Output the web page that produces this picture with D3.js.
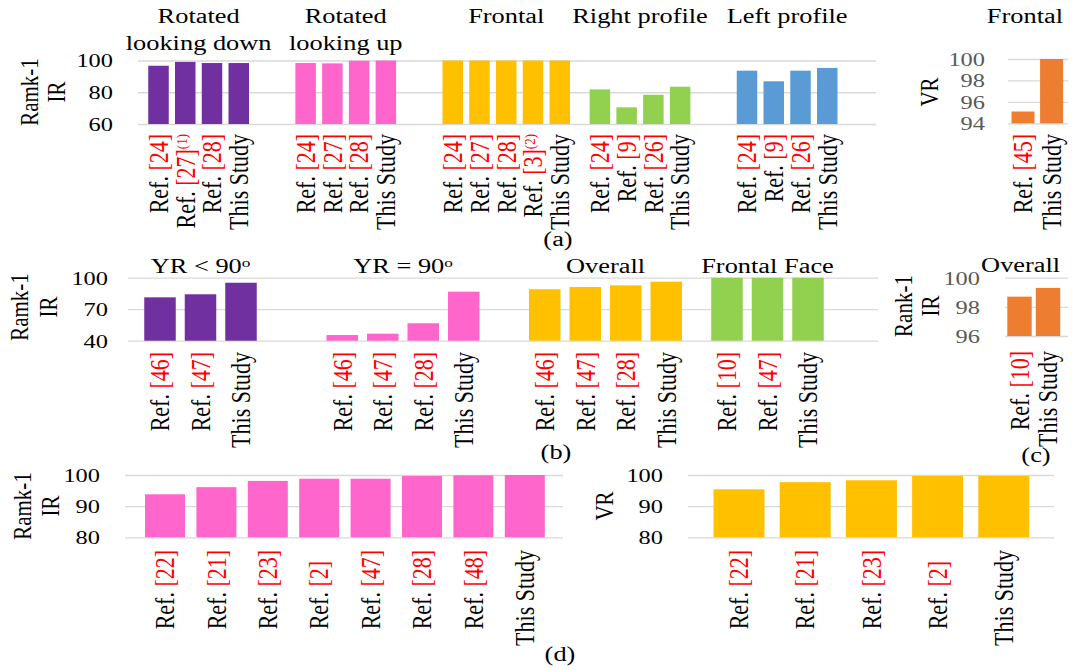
<!DOCTYPE html>
<html>
<head>
<meta charset="utf-8">
<script src="https://cdn.jsdelivr.net/npm/d3@7"></script>
<style>
  body { margin: 0; background: #fff; }
  svg { display: block; font-family: "Liberation Serif", "Times New Roman", serif; }
  text { white-space: pre; }
</style>
</head>
<body>
<svg id="chart" width="1072" height="670"></svg>
<script>
// ---------- data ----------
// (a) Rank-1 IR by pose
const aGroups = ["Rotated|looking down", "Rotated|looking up", "Frontal", "Right profile", "Left profile"];
const aLabels = [
  ["Ref. [24]", "Ref. [27]^(1)", "Ref. [28]", "This Study"],
  ["Ref. [24]", "Ref. [27]", "Ref. [28]", "This Study"],
  ["Ref. [24]", "Ref. [27]", "Ref. [28]", "Ref. [3]^(2)", "This Study"],
  ["Ref. [24]", "Ref. [9]", "Ref. [26]", "This Study"],
  ["Ref. [24]", "Ref. [9]", "Ref. [26]", "This Study"]
];
const aValues = [
  [96.7, 99.1, 98.4, 98.4],
  [98.4, 98.2, 99.9, 100],
  [100, 100, 100, 100, 100],
  [81.8, 70.5, 78.4, 83.5],
  [93.6, 86.9, 93.6, 95.3]
];
const aTicks = [60, 80, 100];

// (a) VR, frontal
const aVRGroup = "Frontal";
const aVRLabels = ["Ref. [45]", "This Study"];
const aVRValues = [95.1, 100];
const aVRTicks = [94, 96, 98, 100];

// (b) Rank-1 IR by yaw rotation
const bGroups = ["YR < 90^o", "YR = 90^o", "Overall", "Frontal Face"];
const bLabels = [
  ["Ref. [46]", "Ref. [47]", "This Study"],
  ["Ref. [46]", "Ref. [47]", "Ref. [28]", "This Study"],
  ["Ref. [46]", "Ref. [47]", "Ref. [28]", "This Study"],
  ["Ref. [10]", "Ref. [47]", "This Study"]
];
const bValues = [
  [81.3, 84.2, 95.2],
  [45.4, 46.7, 56.6, 86.7],
  [89.0, 91.1, 92.7, 96.2],
  [100, 100, 100]
];
const bTicks = [40, 70, 100];

// (c) Rank-1 IR, overall
const cGroup = "Overall";
const cLabels = ["Ref. [10]", "This Study"];
const cValues = [98.7, 99.3];
const cTicks = [96, 98, 100];

// (d) Rank-1 IR and VR
const dIRLabels = ["Ref. [22]", "Ref. [21]", "Ref. [23]", "Ref. [2]\u00a0\u00a0", "Ref. [47]", "Ref. [28]", "Ref. [48]", "This Study"];
const dIRValues = [93.8, 96.1, 98.1, 98.8, 98.8, 99.7, 99.9, 100];
const dVRLabels = ["Ref. [22]", "Ref. [21]", "Ref. [23]", "Ref. [2]\u00a0\u00a0", "This Study"];
const dVRValues = [95.4, 97.7, 98.3, 99.7, 99.7];
const dTicks = [80, 90, 100];

const purple = "#7030a0", pink = "#ff66cc", gold = "#ffc000",
      green = "#92d050", blue = "#5b9bd5", orange = "#ed7d31";
const aColors = [purple, pink, gold, green, blue];
const bColors = [purple, pink, gold, green];

// ---------- drawing ----------
const SXH = 1.32;   // horizontal widening of upright text
const SXV = 1.2;    // widening of rotated text
const svg = d3.select("#chart");

function addRich(t, str) {
  // "Ref. [n]" -> black "Ref. " + red "[n]", optional "^(k)" superscript note
  const m = str.match(/^Ref\. (\[\d+\])(\^(\(\d\)))?(.*)$/);
  if (m) {
    t.append("tspan").attr("fill", "#000").text("Ref. ");
    t.append("tspan").attr("fill", "#ff0000").text(m[1]);
    if (m[3]) t.append("tspan").attr("fill", "#ff0000").attr("dy", "-0.45em")
      .style("font-size", "13px").text(m[3]);
    if (m[4]) t.append("tspan").text(m[4]);
  } else {
    const parts = str.split("^");
    t.append("tspan").text(parts[0]);
    if (parts[1]) t.append("tspan").attr("dy", "-0.5em").style("font-size", "13px").text(parts[1]);
  }
}

function vText(g, x, y, str, size, anchor) {
  const t = g.append("text")
    .attr("transform", `translate(${x},${y}) scale(${SXV},1) rotate(-90)`)
    .attr("text-anchor", anchor).attr("dy", "0.35em")
    .style("font-size", size + "px").attr("fill", "#000");
  addRich(t, str);
  return t;
}

function hText(g, x, y, str, size, anchor, fill) {
  const t = g.append("text")
    .attr("transform", `translate(${x},${y}) scale(${SXH},1)`)
    .attr("text-anchor", anchor).style("font-size", size + "px")
    .attr("fill", fill || "#000");
  addRich(t, str);
  return t;
}

function drawPanel(p) {
  const g = svg.append("g");
  const y = d3.scaleLinear().domain(p.yDomain).range(p.yRange);

  // gridlines + tick labels
  const axis = d3.axisLeft(y).tickValues(p.ticks).tickFormat(d3.format("d"))
    .tickSize(-(p.gridX[1] - p.gridX[0])).tickPadding(0);
  const ag = g.append("g").attr("transform", `translate(${p.gridX[0]},0)`).call(axis)
    .attr("font-family", null).attr("font-size", null);
  ag.select(".domain").remove();
  ag.selectAll(".tick line").attr("stroke", "#d9d9d9").attr("stroke-width", 1.3);
  ag.selectAll(".tick text")
    .attr("x", null).attr("dy", "0.35em")
    .attr("transform", `translate(${p.tickX - p.gridX[0]},0) scale(${SXH},1)`)
    .attr("fill", p.tickColor).style("font-size", "18.5px");

  // slot positions of the groups
  let slot = 0;
  const groups = p.groups.map((grp, i) => {
    if (i > 0) slot += p.gaps[i - 1];
    const start = slot;
    slot += grp.values.length - 1;
    return Object.assign({}, grp, { start });
  });
  const x = d3.scaleLinear().domain([0, Math.max(slot, 1)])
    .range([p.c0, p.c0 + Math.max(slot, 1) * p.step]);

  groups.forEach(grp => {
    const items = grp.values.map((v, j) => ({ v, label: grp.labels[j], s: grp.start + j }));
    g.append("g").selectAll("rect").data(items).join("rect")
      .attr("x", d => x(d.s) - p.barW / 2)
      .attr("width", p.barW)
      .attr("y", d => y(d.v))
      .attr("height", d => y(p.yDomain[0]) - y(d.v))
      .attr("fill", grp.color);

    items.forEach(d => vText(g, x(d.s), p.labelY, d.label, 22, "end"));

    if (grp.name) {
      const lines = grp.name.split("|");
      const first = x(grp.start), last = x(grp.start + grp.values.length - 1);
      const tx = p.titleAlign === "end" ? last + p.barW / 2 : (first + last) / 2;
      lines.forEach((ln, k) => hText(g, tx, p.titleY + k * 27, ln, 20, p.titleAlign));
    }
  });

  p.yTitle.forEach(d => vText(g, d.x, p.yTitleY, d.text, 21, "middle"));
}

const mk = (names, labels, values, colors) =>
  names.map((name, i) => ({ name, labels: labels[i], values: values[i], color: colors[i] }));

drawPanel({
  yDomain: [60, 100], yRange: [124, 60.5], ticks: aTicks,
  gridX: [138, 876], tickX: 113, tickColor: "#000",
  c0: 158.5, step: 26.75, barW: 20.5, labelY: 134,
  titleY: 23, titleAlign: "middle",
  groups: mk(aGroups, aLabels, aValues, aColors), gaps: [2.5, 2.5, 1.5, 2.5],
  yTitle: [{ text: "Ramk-1", x: 29 }, { text: "IR", x: 56 }], yTitleY: 92
});

drawPanel({
  yDomain: [94, 100], yRange: [123.3, 59], ticks: aVRTicks,
  gridX: [1008, 1068], tickX: 985, tickColor: "#595959",
  c0: 1023, step: 28.6, barW: 23, labelY: 134,
  titleY: 23, titleAlign: "end",
  groups: [{ name: aVRGroup, labels: aVRLabels, values: aVRValues, color: orange }], gaps: [],
  yTitle: [{ text: "VR", x: 929 }], yTitleY: 92
});

drawPanel({
  yDomain: [40, 100], yRange: [340.7, 277.7], ticks: bTicks,
  gridX: [128, 878], tickX: 108, tickColor: "#000",
  c0: 160, step: 40.5, barW: 31.5, labelY: 352,
  titleY: 273, titleAlign: "middle",
  groups: mk(bGroups, bLabels, bValues, bColors), gaps: [2.5, 2, 1.5],
  yTitle: [{ text: "Ramk-1", x: 19 }, { text: "IR", x: 48 }], yTitleY: 307
});

drawPanel({
  yDomain: [96, 100], yRange: [336, 277.7], ticks: cTicks,
  gridX: [1005, 1068], tickX: 980, tickColor: "#595959",
  c0: 1019.5, step: 28.5, barW: 24.4, labelY: 351,
  titleY: 272, titleAlign: "end",
  groups: [{ name: cGroup, labels: cLabels, values: cValues, color: orange }], gaps: [],
  yTitle: [{ text: "Rank-1", x: 903 }, { text: "IR", x: 930 }], yTitleY: 306
});

drawPanel({
  yDomain: [80, 100], yRange: [537.3, 475], ticks: dTicks,
  gridX: [125, 563], tickX: 100, tickColor: "#000",
  c0: 165, step: 51.4, barW: 40, labelY: 550,
  groups: [{ name: "", labels: dIRLabels, values: dIRValues, color: pink }], gaps: [],
  yTitle: [{ text: "Ramk-1", x: 22.5 }, { text: "IR", x: 50 }], yTitleY: 506
});

drawPanel({
  yDomain: [80, 100], yRange: [537.3, 475], ticks: dTicks,
  gridX: [688, 1054], tickX: 663, tickColor: "#000",
  c0: 739, step: 66.2, barW: 51, labelY: 550,
  groups: [{ name: "", labels: dVRLabels, values: dVRValues, color: gold }], gaps: [],
  yTitle: [{ text: "VR", x: 604 }], yTitleY: 506
});

// sub-figure captions
const captions = ["(a)", "(b)", "(c)", "(d)"];
const capPos = [[558, 246], [556, 459], [1036, 462], [560, 661]];
captions.forEach((c, i) => hText(svg, capPos[i][0], capPos[i][1], c, 20, "middle"));
</script>
</body>
</html>
